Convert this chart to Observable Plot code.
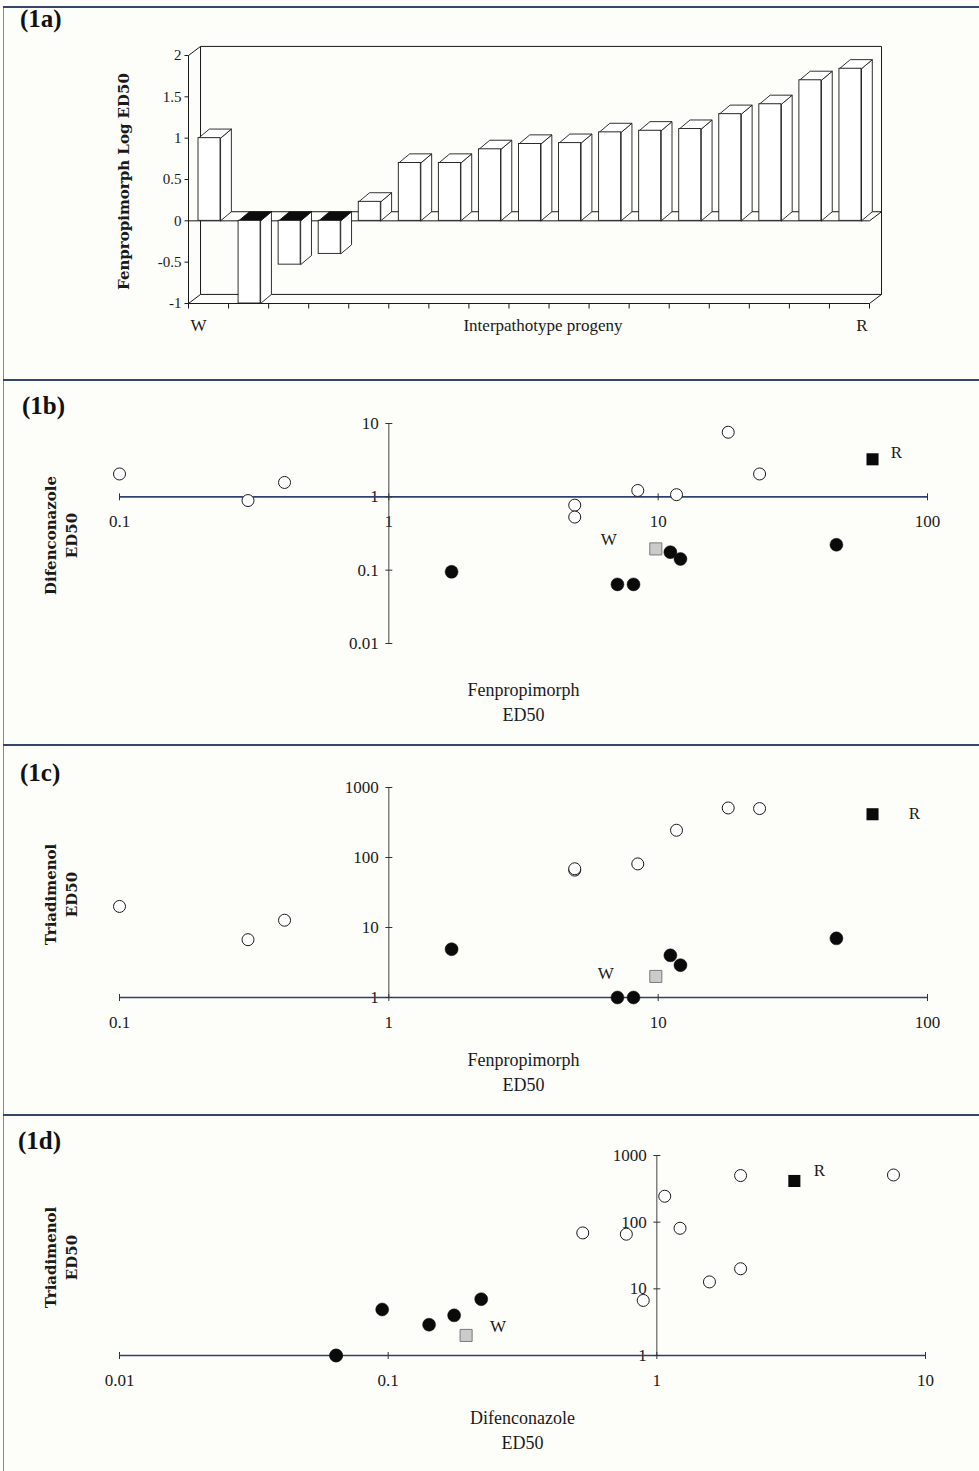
<!DOCTYPE html>
<html><head><meta charset="utf-8">
<script src="https://cdn.jsdelivr.net/npm/d3@7"></script>
<script src="https://cdn.jsdelivr.net/npm/@observablehq/plot@0.6"></script>
<style>
html,body{margin:0;padding:0;background:#fdfdf9;}
#page{position:relative;width:979px;height:1471px;overflow:hidden;background:#fdfdf9;}
.panel{position:absolute;left:0;width:979px;}
.lbl{position:absolute;font-family:"Liberation Serif",serif;font-weight:bold;font-size:25px;line-height:1;color:#111;}
.hline{position:absolute;left:3px;right:0;height:2px;background:#34466a;}
.vline{position:absolute;left:3px;width:1px;top:7px;bottom:0;background:#8a8a8a;}
</style></head>
<body><div id="page"></div>
<script>
// ---------- DATA ----------
// (1a) Fenpropimorph log ED50, isolates ordered from W (wild) to R (resistant)
const barIsolates = ["W","P1","P2","P3","P4","P5","P6","P7","P8","P9","P10","P11","P12","P13","P14","P15","R"];
const barLogED50 = [1.00, -1.00, -0.53, -0.40, 0.23, 0.70, 0.70, 0.865, 0.93, 0.94, 1.07, 1.09, 1.11, 1.29, 1.41, 1.70, 1.84];
const barYTicks = [-1, -0.5, 0, 0.5, 1, 1.5, 2];

// (1b)-(1d) ED50 values per isolate
const isolate       = ["W","R","A","B","C","D","E","F","G","H","I","J","K","L","M","N","O"];
const phenotype     = ["W","R","open","open","open","filled","open","open","filled","filled","open","filled","open","filled","open","open","filled"];
const fenpropimorph = [9.8, 62.5, 0.1, 0.30, 0.41, 1.71, 4.9, 4.9, 7.06, 8.1, 8.4, 11.1, 11.7, 12.1, 18.2, 23.8, 45.9];
const difenconazole = [0.195, 3.25, 2.05, 0.89, 1.57, 0.095, 0.77, 0.53, 0.064, 0.064, 1.22, 0.176, 1.07, 0.142, 7.6, 2.05, 0.222];
const triadimenol   = [2.0, 415, 20, 6.7, 12.7, 4.9, 66, 69, 1, 1, 81, 4.0, 245, 2.9, 510, 500, 7.0];

const fenTicks = [0.1, 1, 10, 100];
const difTicks = [0.01, 0.1, 1, 10];
const triTicks = [1, 10, 100, 1000];

// ---------- helpers ----------
const INK = "#1a1a1a";
const AXIS = "#2e4170";
const SERIF = "Liberation Serif, Times New Roman, serif";
const BOLDSERIF = "DejaVu Serif, serif";

const tickSym = (fn) => ({draw(ctx, size){ const r = Math.sqrt(size/Math.PI); fn(ctx, r); }});
const vTick = tickSym((c,r)=>{c.moveTo(0,-r); c.lineTo(0,r);});
const hTick = tickSym((c,r)=>{c.moveTo(-r,0); c.lineTo(r,0);});
const leftTick = tickSym((c,r)=>{c.moveTo(-r,0); c.lineTo(0,0);});
const downTick = tickSym((c,r)=>{c.moveTo(0,0); c.lineTo(0,r);});

const page = document.getElementById("page");
function addDiv(cls, css, text){ const d=document.createElement("div"); d.className=cls; Object.assign(d.style, css); if(text) d.textContent=text; page.appendChild(d); return d; }

// ---------- (1a) 3-D bar chart ----------
const n = barLogED50.length;
const DX = 0.27, DY = 0.11;     // bar depth offset (3-D effect)
const WX = 0.30;                // wall depth offset
const yMin = barYTicks[0], yMax = barYTicks[barYTicks.length-1];
const bars = barLogED50.map((v,i)=>({id: barIsolates[i], v, x1: i+0.25, x2: i+0.8}));
const polys = {side: [], top: [], dark: []};
function pushPoly(arr, id, pts){ pts.concat([pts[0]]).forEach(([x,y])=>arr.push({id, x, y})); }
bars.forEach(b=>{
  const {x1,x2,v,id} = b;
  pushPoly(polys.side, id, [[x2,0],[x2,v],[x2+DX,v+DY],[x2+DX,DY]]);
  if (v >= 0) pushPoly(polys.top, id, [[x1,v],[x2,v],[x2+DX,v+DY],[x1+DX,v+DY]]);
  else pushPoly(polys.dark, id, [[x1,0],[x2,0],[x2+DX,DY],[x1+DX,DY]]);
});
const box = [
  [0,yMin,0,yMax],[0,yMax,WX,yMax+DY],[WX,yMin+DY,WX,yMax+DY],[WX,yMax+DY,n+WX,yMax+DY],
  [n+WX,yMin+DY,n+WX,yMax+DY],[0,yMin,n,yMin],[WX,yMin+DY,n+WX,yMin+DY],[0,yMin,WX,yMin+DY],
  [n,yMin,n+WX,yMin+DY],[0,0,n,0],[WX,DY,n+WX,DY],[n,0,n+WX,DY]
].map(([x1,y1,x2,y2])=>({x1,y1,x2,y2}));
const catEdges = d3.range(n+1);

const panelA = Plot.plot({
  width: 979, height: 380,
  marginTop: 55, marginBottom: 77, marginLeft: 188, marginRight: 110,
  x: {domain: [0, n], axis: null},
  y: {domain: [yMin, yMax], axis: null},
  style: {background: "transparent", fontFamily: SERIF, color: INK, overflow: "visible"},
  marks: [
    Plot.link(box, {x1:"x1", y1:"y1", x2:"x2", y2:"y2", stroke: INK, strokeWidth: 1}),
    Plot.line(polys.side, {x:"x", y:"y", z:"id", fill:"white", stroke: INK, strokeWidth: 0.9}),
    Plot.line(polys.top, {x:"x", y:"y", z:"id", fill:"white", stroke: INK, strokeWidth: 0.9}),
    Plot.line(polys.dark, {x:"x", y:"y", z:"id", fill:"#0d0d0d", stroke: INK, strokeWidth: 0.9}),
    Plot.rect(bars, {x1:"x1", x2:"x2", y1: ()=>0, y2:"v", fill:"white", stroke: INK, strokeWidth: 0.9}),
    Plot.dot(barYTicks, {x: ()=>0, y: d=>d, symbol: leftTick, r: 4, fill:"none", stroke: INK, strokeWidth: 1}),
    Plot.text(barYTicks, {x: ()=>0, y: d=>d, text: d=>String(d), dx: -7, textAnchor: "end", fontSize: 15, fontFamily: SERIF}),
    Plot.dot(catEdges, {x: d=>d, y: ()=>yMin, symbol: downTick, r: 5, fill:"none", stroke: INK, strokeWidth: 1}),
    Plot.text(["W"], {x: ()=>0, y: ()=>yMin, text: d=>d, dx: 2, dy: 22, textAnchor: "start", fontSize: 17, fontFamily: SERIF}),
    Plot.text(["R"], {x: ()=>n, y: ()=>yMin, text: d=>d, dx: -2, dy: 22, textAnchor: "end", fontSize: 17, fontFamily: SERIF}),
    Plot.text(["Interpathotype progeny"], {frameAnchor: "bottom", text: d=>d, dx: 14, dy: 22, lineAnchor: "middle", fontSize: 17, fontFamily: SERIF}),
    Plot.text(["Fenpropimorph Log ED50"], {frameAnchor: "left", text: d=>d, rotate: -90, textAnchor: "middle", lineAnchor: "middle", dx: -64, dy: 2, fontSize: 15, fontWeight: "bold", fontFamily: BOLDSERIF})
  ]
});

// ---------- scatter panels ----------
const rows = isolate.map((id,i)=>({id, type: phenotype[i], fen: fenpropimorph[i], dif: difenconazole[i], tri: triadimenol[i]}));

function scatter(o){
  const [x0,x1] = [o.xTicks[0], o.xTicks[o.xTicks.length-1]];
  const [y0,y1] = [o.yTicks[0], o.yTicks[o.yTicks.length-1]];
  const cross = 1;
  const pick = t => rows.filter(r=>r.type===t);
  const W = pick("W"), R = pick("R");
  return Plot.plot({
    width: 979, height: o.height,
    marginTop: o.mt, marginBottom: o.height - o.mt - o.ph, marginLeft: 119, marginRight: o.mr,
    x: {type: "log", domain: [x0, x1], axis: null},
    y: {type: "log", domain: [y0, y1], axis: null},
    style: {background: "transparent", fontFamily: SERIF, color: INK, overflow: "visible"},
    marks: [
      Plot.text(o.xTicks, {x: d=>d, y: ()=>cross, text: d=>String(d), dy: 25, fontSize: 17, fontFamily: SERIF}),
      Plot.text(o.yTicks, {x: ()=>cross, y: d=>d, text: d=>String(d), dx: -10, textAnchor: "end", fontSize: 17, fontFamily: SERIF}),
      Plot.ruleX([cross], {y1: ()=>y0, y2: ()=>y1, stroke: "#444", strokeWidth: 1}),
      Plot.ruleY([cross], {x1: ()=>x0, x2: ()=>x1, stroke: AXIS, strokeWidth: 1.6}),
      Plot.dot(o.xTicks, {x: d=>d, y: ()=>cross, symbol: vTick, r: 3.5, fill:"none", stroke: "#333", strokeWidth: 1}),
      Plot.dot(o.yTicks, {x: ()=>cross, y: d=>d, symbol: hTick, r: 3.5, fill:"none", stroke: "#333", strokeWidth: 1}),
      Plot.dot(pick("open"), {x: o.xk, y: o.yk, r: 6, fill: "white", stroke: INK, strokeWidth: 1}),
      Plot.dot(pick("filled"), {x: o.xk, y: o.yk, r: 6.5, fill: "#0a0a0a", stroke: INK, strokeWidth: 0.5}),
      Plot.dot(W, {x: o.xk, y: o.yk, symbol: "square", r: 6.8, fill: "#cbcbcb", stroke: "#7a7a7a", strokeWidth: 1}),
      Plot.dot(R, {x: o.xk, y: o.yk, symbol: "square", r: 6.8, fill: "#0a0a0a", stroke: "none"}),
      Plot.text(W, {x: o.xk, y: o.yk, text: d=>d.id, dx: o.wdx, dy: o.wdy, fontSize: 17, fontFamily: SERIF}),
      Plot.text(R, {x: o.xk, y: o.yk, text: d=>d.id, dx: o.rdx, dy: o.rdy, fontSize: 17, fontFamily: SERIF}),
      Plot.text([o.xTitle], {frameAnchor: "bottom", text: d=>d, dy: o.tdy, lineHeight: 1.42, lineAnchor: "middle", fontSize: 18, fontFamily: SERIF}),
      Plot.text([o.yTitle], {frameAnchor: "left", text: d=>d, rotate: -90, textAnchor: "middle", lineAnchor: "middle", dx: -60, dy: 2, lineHeight: 1.45, fontSize: 15, fontWeight: "bold", fontFamily: BOLDSERIF})
    ]
  });
}

const panelB = scatter({height: 365, mt: 43, ph: 220, mr: 52, xTicks: fenTicks, yTicks: difTicks, xk: "fen", yk: "dif",
  xTitle: "Fenpropimorph\nED50", yTitle: "Difenconazole\nED50", tdy: 57, wdx: -47, wdy: -9, rdx: 24, rdy: -7});
const panelC = scatter({height: 370, mt: 42, ph: 210, mr: 52, xTicks: fenTicks, yTicks: triTicks, xk: "fen", yk: "tri",
  xTitle: "Fenpropimorph\nED50", yTitle: "Triadimenol\nED50", tdy: 73, wdx: -50, wdy: -3, rdx: 42, rdy: -1});
const panelD = scatter({height: 356, mt: 40, ph: 200, mr: 54, xTicks: difTicks, yTicks: triTicks, xk: "dif", yk: "tri",
  xTitle: "Difenconazole\nED50", yTitle: "Triadimenol\nED50", tdy: 73, wdx: 32, wdy: -9, rdx: 25, rdy: -10});

// ---------- layout ----------
[[panelA,0],[panelB,380],[panelC,745],[panelD,1115]].forEach(([svg,top])=>{
  const d = addDiv("panel", {top: top+"px"}); d.appendChild(svg);
});
addDiv("vline", {});
[6, 379, 744, 1114].forEach(y=>addDiv("hline", {top: y+"px"}));
[["(1a)",20,6],["(1b)",22,393],["(1c)",20,760],["(1d)",18,1128]].forEach(([t,x,y])=>addDiv("lbl",{left:x+"px",top:y+"px"},t));
</script>
</body></html>
